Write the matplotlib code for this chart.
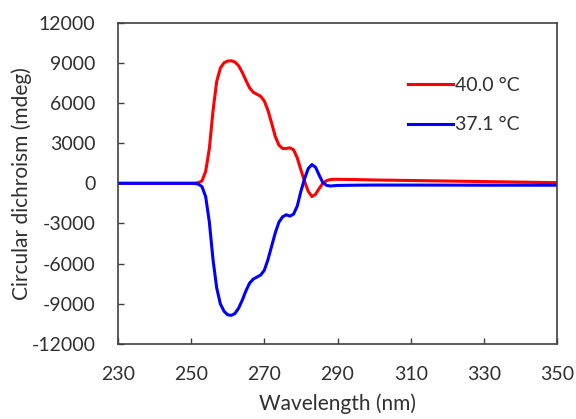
import numpy as np
import matplotlib.pyplot as plt

plt.rcParams['font.family'] = ['Lato', 'DejaVu Sans']
plt.rcParams['axes.unicode_minus'] = False

# wavelength (nm)
wavelength = [230, 240, 248, 250, 251, 252, 253, 254, 255, 256, 257, 258, 259,
              260, 261, 262, 263, 264, 265, 266, 267, 268, 269, 270, 271, 272,
              273, 274, 275, 276, 277, 278, 279, 280, 281, 282, 283, 284, 285,
              286, 287, 288, 289, 290, 295, 300, 310, 320, 330, 340, 350]

# CD signal (mdeg)
cd_40 = [0, 0, 0, 0, 10, 50, 180, 900, 2600, 5400, 7600, 8600, 9000,
         9130, 9150, 9060, 8780, 8280, 7680, 7120, 6800, 6650, 6500, 6150, 5450, 4500,
         3500, 2850, 2600, 2600, 2650, 2500, 1900, 1000, 150, -600, -990, -820, -380,
         0, 200, 280, 300, 300, 280, 250, 210, 170, 130, 90, 50]

cd_37 = [0, 0, 0, 0, -10, -60, -250, -1000, -2900, -5700, -7800, -9000, -9550,
         -9820, -9860, -9720, -9320, -8720, -8020, -7450, -7150, -7000, -6850, -6500, -5700, -4700,
         -3700, -2900, -2500, -2350, -2450, -2300, -1700, -600, 350, 1100, 1400, 1200, 600,
         50, -150, -200, -180, -160, -140, -130, -130, -135, -140, -140, -140]

text_col = '#404040'

fig = plt.figure(figsize=(5.76, 4.19), dpi=100)
ax = fig.add_axes([0.2045, 0.179, 0.763, 0.767])

ax.plot(wavelength, cd_40, color='#ff0000', lw=2.2, label='40.0 °C')
ax.plot(wavelength, cd_37, color='#0000ff', lw=2.2, label='37.1 °C')

ax.set_xlim(230, 350)
ax.set_ylim(-12000, 12000)
ax.set_xticks(np.arange(230, 351, 20))
ax.set_yticks(np.arange(-12000, 12001, 3000))

for s in ax.spines.values():
    s.set_color(text_col)
    s.set_linewidth(1.2)

ax.tick_params(direction='in', length=4.5, width=1, color=text_col,
               labelsize=14, labelcolor='#303030', pad=16)
ax.tick_params(top=False, right=False)

ax.set_xlabel('Wavelength (nm)', fontsize=15, color='#303030')
ax.set_ylabel('Circular dichroism (mdeg)', fontsize=15, color='#303030')
ax.xaxis.set_label_coords(0.5, -0.155)
ax.yaxis.set_label_coords(-0.195, 0.5)

leg = ax.legend(loc='upper right', bbox_to_anchor=(0.954, 0.885), frameon=False,
                fontsize=14, handlelength=2.3, handletextpad=0.1, labelspacing=1.15)
for t in leg.get_texts():
    t.set_color('#303030')

fig.savefig('out.png', dpi=100)
